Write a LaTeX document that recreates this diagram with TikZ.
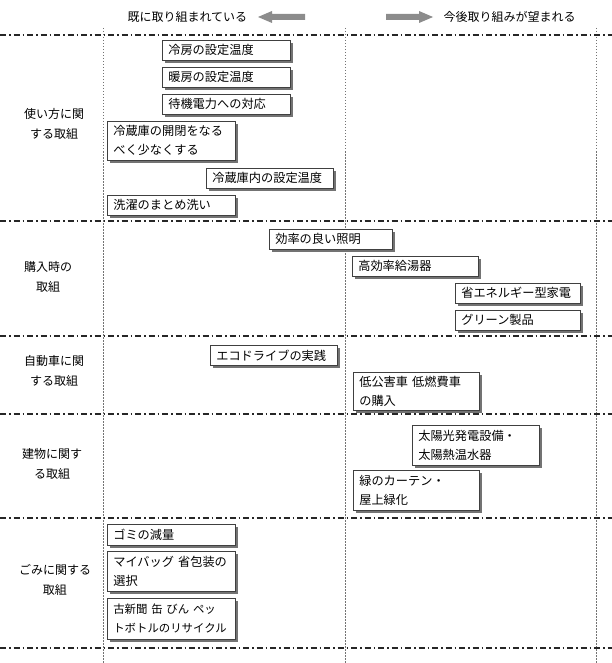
\documentclass[tikz,border=0pt]{standalone}
\usepackage{fontspec}
\setmainfont{Noto Sans CJK JP}
\usetikzlibrary{shadows}
\begin{document}
\begin{tikzpicture}[x=1pt,y=-1pt,
  hline/.style={line width=1.1pt, black!85, dash pattern=on 6pt off 3pt on 1.5pt off 3pt},
  vline/.style={line width=0.6pt, black!55, dash pattern=on 1.5pt off 1.5pt},
  box/.style={draw=black!75, fill=white, line width=0.6pt, anchor=north west,
    inner xsep=6pt, inner ysep=2pt, align=left, font=\fontsize{12.2}{19}\selectfont,
    drop shadow={shadow xshift=3pt, shadow yshift=-3pt, fill=black!55, opacity=1}},
  cat/.style={align=center, font=\fontsize{12}{20}\selectfont},
  head/.style={anchor=west, font=\fontsize{12}{14}\selectfont},
  garrow/.style={fill=black!45, draw=none}]
\useasboundingbox (0,0) rectangle (612,663);
% header
\node[head] (h1) at (124,17) {既に取り組まれている};
\node[head] (h2) at (440,17) {今後取り組みが望まれる};
\fill[garrow] (258,17) -- (272,11) -- (272,14) -- (305,14) -- (305,20) -- (272,20) -- (272,23) -- cycle;
\fill[garrow] (433,17) -- (419,11) -- (419,14) -- (386,14) -- (386,20) -- (419,20) -- (419,23) -- cycle;
% grid
\foreach \x in {103,345,596} \draw[vline] (\x,28) -- (\x,663);
\foreach \y in {35,221,336,414,518,648} \draw[hline] (0,\y) -- (612,\y);
% categories
\node[cat] (c1) at (54,124) {使い方に関\\する取組};
\node[cat] (c2) at (48,277) {購入時の\\取組};
\node[cat] (c3) at (54,371) {自動車に関\\する取組};
\node[cat] (c4) at (52,464) {建物に関す\\る取組};
\node[cat] (c5) at (55,580) {ごみに関する\\取組};
% boxes
\node[box, text width=116pt, minimum height=20pt] (b1) at (162,40) {冷房の設定温度};
\node[box, text width=116pt, minimum height=20pt] (b2) at (162,67) {暖房の設定温度};
\node[box, text width=116pt, minimum height=20pt] (b3) at (162,94) {待機電力への対応};
\node[box, text width=116pt, minimum height=39pt] (b4) at (107,121) {冷蔵庫の開閉をなる\\べく少なくする};
\node[box, text width=115pt, minimum height=20pt] (b5) at (206,168) {冷蔵庫内の設定温度};
\node[box, text width=116pt, minimum height=20pt] (b6) at (107,195) {洗濯のまとめ洗い};
\node[box, text width=111pt, minimum height=20pt] (b7) at (269,229) {効率の良い照明};
\node[box, text width=114pt, minimum height=20pt] (b8) at (352,256) {高効率給湯器};
\node[box, text width=113pt, minimum height=20pt] (b9) at (455,283) {省エネルギー型家電};
\node[box, text width=113pt, minimum height=20pt] (b10) at (455,310) {グリーン製品};
\node[box, text width=115pt, minimum height=20pt] (b11) at (210,345) {エコドライブの実践};
\node[box, text width=114pt, minimum height=38pt] (b12) at (353,372) {低公害車 低燃費車\\の購入};
\node[box, text width=115pt, minimum height=40pt] (b13) at (412,425) {太陽光発電設備・\\太陽熱温水器};
\node[box, text width=114pt, minimum height=40pt] (b14) at (353,470) {緑のカーテン・\\屋上緑化};
\node[box, text width=116pt, minimum height=21pt] (b15) at (107,524) {ゴミの減量};
\node[box, text width=116pt, minimum height=40pt] (b16) at (107,551) {マイバッグ 省包装の\\選択};
\node[box, text width=116pt, minimum height=41pt, font=\fontsize{11.4}{19}\selectfont] (b17) at (107,598) {古新聞 缶 びん ペッ\\トボトルのリサイクル};
\end{tikzpicture}
\end{document}
